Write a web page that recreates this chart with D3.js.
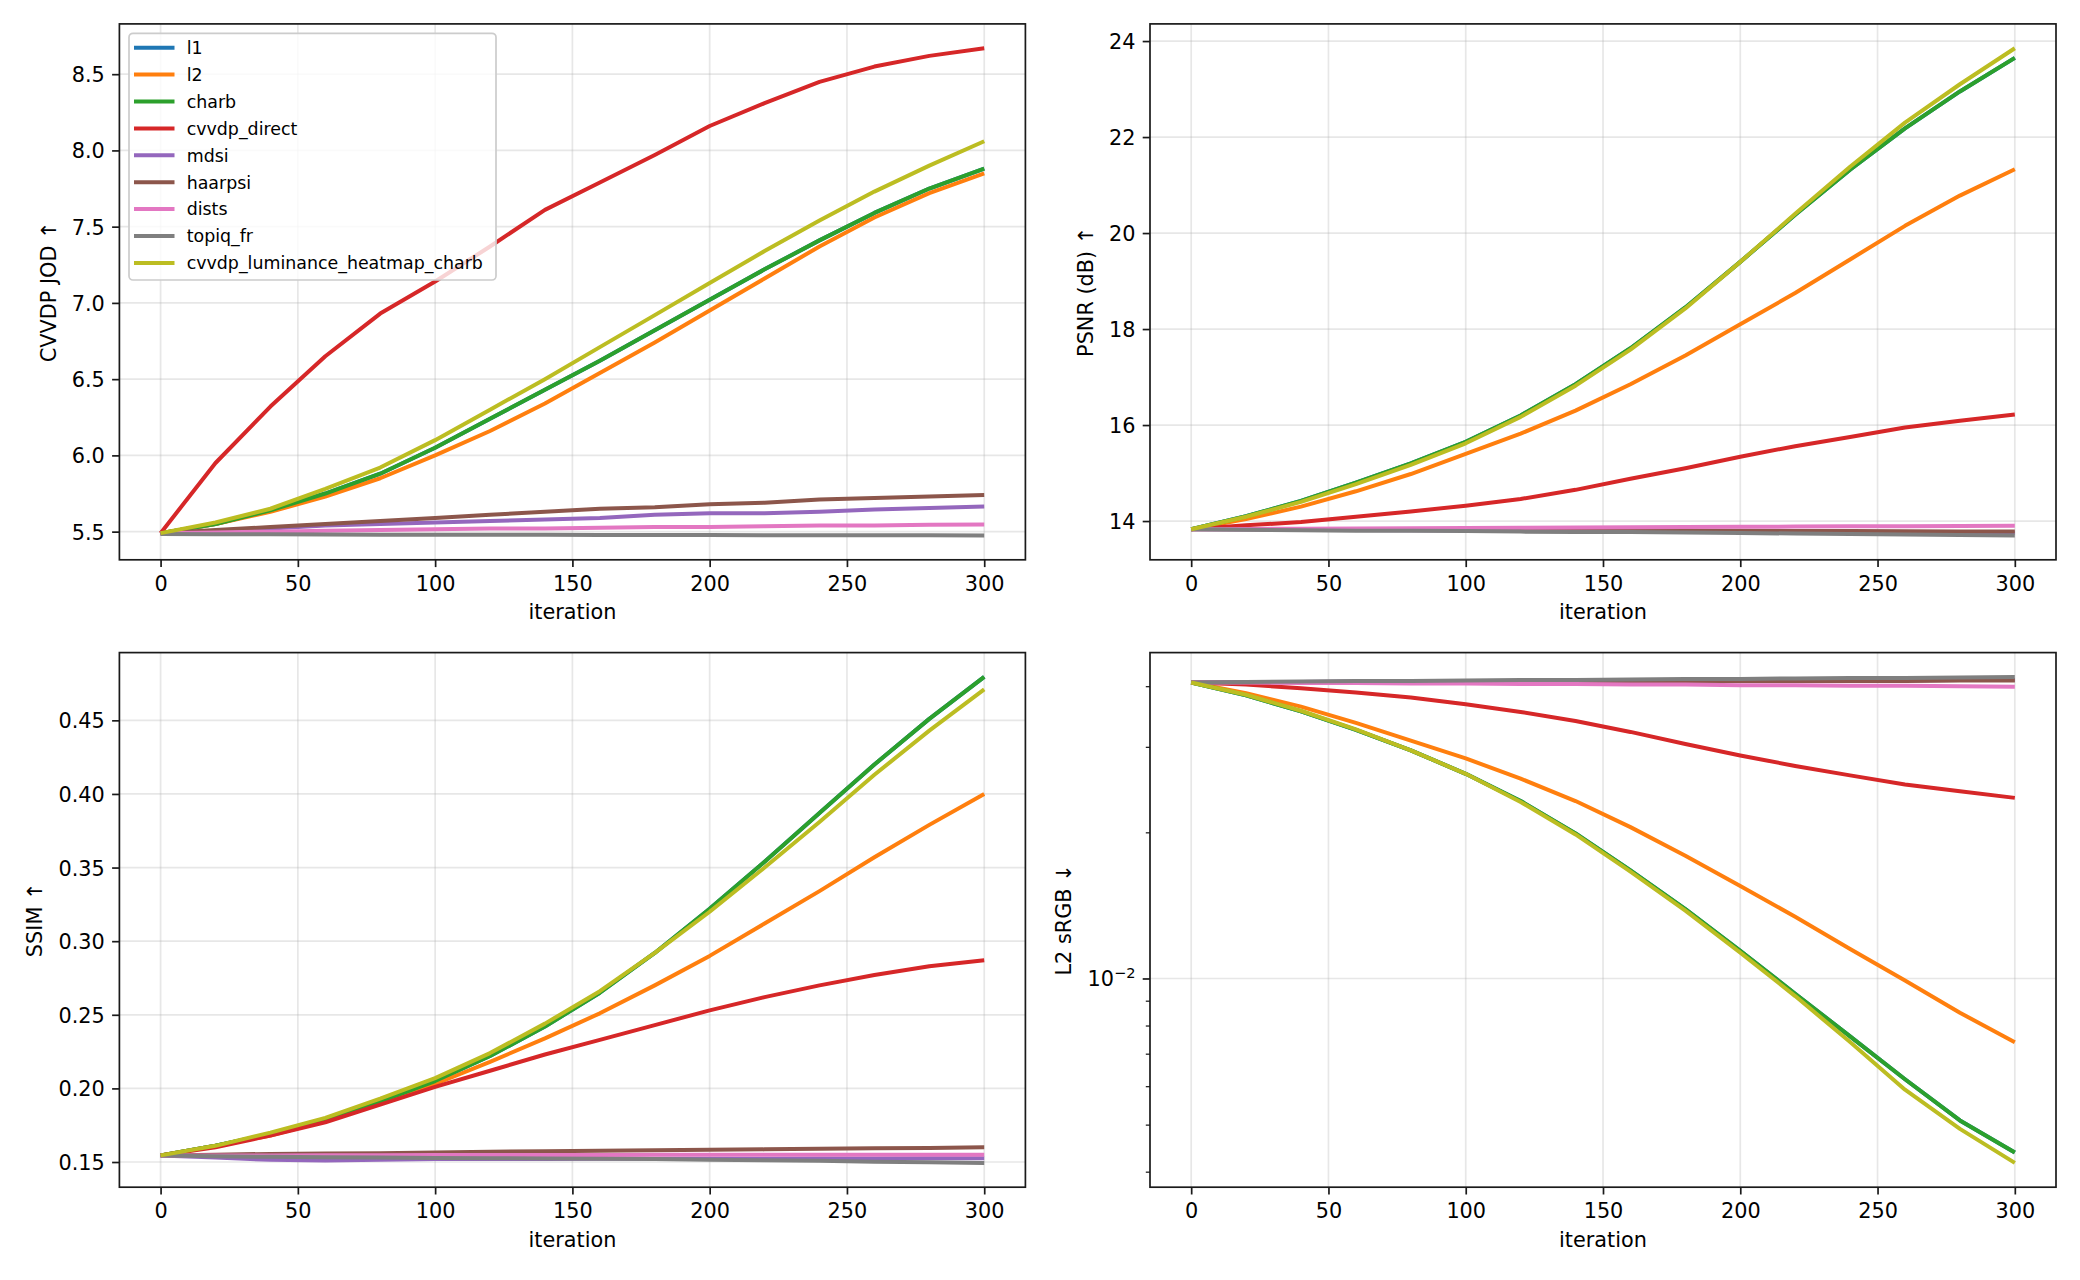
<!DOCTYPE html>
<html>
<head>
<meta charset="utf-8">
<script src="https://cdn.jsdelivr.net/npm/d3@7"></script>
<style>
  body { margin: 0; background: #fff; }
  svg { display: block; }
  text { font-family: "DejaVu Sans", sans-serif; fill: #000; }
</style>
</head>
<body>
<div id="chart"></div>
<script>
// x values (iterations) shared by every panel
var iterations = [0, 20, 40, 60, 80, 100, 120, 140, 160, 180, 200, 220, 240, 260, 280, 300];
var xTicks = [0, 50, 100, 150, 200, 250, 300];

var seriesNames = ["l1", "l2", "charb", "cvvdp_direct", "mdsi", "haarpsi", "dists", "topiq_fr", "cvvdp_luminance_heatmap_charb"];
var seriesColors = ["#1f77b4", "#ff7f0e", "#2ca02c", "#d62728", "#9467bd", "#8c564b", "#e377c2", "#7f7f7f", "#bcbd22"];

// CVVDP JOD (one row per series, same order as seriesNames)
var jodSeries = [
  [5.49, 5.55, 5.64, 5.75, 5.88, 6.05, 6.24, 6.43, 6.62, 6.82, 7.02, 7.22, 7.41, 7.59, 7.75, 7.88],
  [5.49, 5.55, 5.63, 5.73, 5.85, 6.00, 6.16, 6.34, 6.54, 6.74, 6.95, 7.16, 7.37, 7.56, 7.72, 7.85],
  [5.49, 5.55, 5.64, 5.75, 5.88, 6.05, 6.24, 6.43, 6.62, 6.82, 7.02, 7.22, 7.41, 7.59, 7.75, 7.88],
  [5.49, 5.95, 6.32, 6.65, 6.93, 7.14, 7.37, 7.61, 7.79, 7.97, 8.16, 8.31, 8.45, 8.55, 8.62, 8.67],
  [5.49, 5.50, 5.52, 5.54, 5.55, 5.56, 5.57, 5.58, 5.59, 5.61, 5.62, 5.62, 5.63, 5.645, 5.655, 5.665],
  [5.49, 5.51, 5.53, 5.55, 5.57, 5.59, 5.61, 5.63, 5.65, 5.66, 5.68, 5.69, 5.71, 5.72, 5.73, 5.74],
  [5.49, 5.495, 5.50, 5.505, 5.51, 5.515, 5.52, 5.52, 5.525, 5.53, 5.53, 5.535, 5.54, 5.54, 5.545, 5.546],
  [5.485, 5.483, 5.482, 5.481, 5.48, 5.48, 5.479, 5.479, 5.478, 5.478, 5.478, 5.477, 5.477, 5.476, 5.476, 5.475],
  [5.49, 5.56, 5.65, 5.78, 5.92, 6.10, 6.30, 6.50, 6.71, 6.92, 7.13, 7.34, 7.54, 7.73, 7.90, 8.06]
];
var jodTicks = [5.5, 6.0, 6.5, 7.0, 7.5, 8.0, 8.5];

// PSNR (dB)
var psnrSeries = [
  [13.83, 14.10, 14.42, 14.80, 15.20, 15.65, 16.20, 16.85, 17.60, 18.45, 19.40, 20.38, 21.32, 22.18, 22.95, 23.65],
  [13.83, 14.04, 14.30, 14.62, 14.98, 15.40, 15.82, 16.30, 16.85, 17.45, 18.10, 18.75, 19.45, 20.15, 20.78, 21.33],
  [13.83, 14.10, 14.42, 14.80, 15.20, 15.65, 16.20, 16.85, 17.60, 18.45, 19.40, 20.38, 21.32, 22.18, 22.95, 23.65],
  [13.83, 13.91, 13.98, 14.09, 14.20, 14.32, 14.46, 14.65, 14.88, 15.10, 15.34, 15.56, 15.75, 15.95, 16.09, 16.22],
  [13.83, 13.825, 13.82, 13.815, 13.81, 13.805, 13.80, 13.795, 13.79, 13.785, 13.78, 13.775, 13.77, 13.765, 13.76, 13.755],
  [13.83, 13.827, 13.823, 13.82, 13.817, 13.813, 13.81, 13.807, 13.803, 13.80, 13.797, 13.793, 13.79, 13.787, 13.783, 13.78],
  [13.83, 13.835, 13.84, 13.845, 13.85, 13.855, 13.86, 13.865, 13.87, 13.875, 13.88, 13.885, 13.89, 13.893, 13.896, 13.90],
  [13.83, 13.82, 13.81, 13.80, 13.80, 13.79, 13.78, 13.77, 13.77, 13.76, 13.75, 13.74, 13.73, 13.72, 13.71, 13.70],
  [13.83, 14.09, 14.40, 14.77, 15.17, 15.62, 16.17, 16.82, 17.57, 18.43, 19.40, 20.40, 21.38, 22.30, 23.10, 23.85]
];
var psnrTicks = [14, 16, 18, 20, 22, 24];

// SSIM
var ssimSeries = [
  [0.1545, 0.161, 0.169, 0.179, 0.191, 0.205, 0.222, 0.242, 0.265, 0.292, 0.322, 0.354, 0.387, 0.420, 0.451, 0.4795],
  [0.1545, 0.161, 0.168, 0.178, 0.190, 0.203, 0.218, 0.234, 0.251, 0.270, 0.290, 0.312, 0.334, 0.357, 0.379, 0.400],
  [0.1545, 0.161, 0.169, 0.179, 0.191, 0.205, 0.222, 0.242, 0.265, 0.292, 0.322, 0.354, 0.387, 0.420, 0.451, 0.4795],
  [0.1545, 0.160, 0.168, 0.177, 0.189, 0.201, 0.212, 0.223, 0.233, 0.243, 0.253, 0.262, 0.270, 0.277, 0.283, 0.287],
  [0.1545, 0.153, 0.1515, 0.151, 0.1515, 0.152, 0.152, 0.152, 0.1522, 0.1522, 0.1523, 0.1523, 0.1524, 0.1524, 0.1525, 0.1525],
  [0.1545, 0.155, 0.1555, 0.1558, 0.156, 0.1565, 0.157, 0.1573, 0.1576, 0.158, 0.1583, 0.1586, 0.159, 0.1593, 0.1596, 0.160],
  [0.1545, 0.1545, 0.1545, 0.1546, 0.1546, 0.1547, 0.1547, 0.1548, 0.1548, 0.1549, 0.1549, 0.155, 0.155, 0.155, 0.155, 0.155],
  [0.1545, 0.154, 0.1535, 0.1532, 0.153, 0.1528, 0.1526, 0.1524, 0.1522, 0.152, 0.1516, 0.1512, 0.1508, 0.1502, 0.1498, 0.1494],
  [0.1545, 0.161, 0.170, 0.180, 0.193, 0.207, 0.224, 0.244, 0.266, 0.292, 0.320, 0.350, 0.381, 0.413, 0.443, 0.471]
];
var ssimTicks = [0.15, 0.20, 0.25, 0.30, 0.35, 0.40, 0.45];

// L2 sRGB (log axis)
var l2Series = [
  [0.0407, 0.0383, 0.0355, 0.0325, 0.0295, 0.0264, 0.0232, 0.0199, 0.0167, 0.0139, 0.0114, 0.0093, 0.0076, 0.0062, 0.0051, 0.00438],
  [0.0407, 0.0387, 0.0363, 0.0336, 0.0309, 0.0284, 0.0258, 0.0232, 0.0205, 0.0179, 0.0155, 0.0134, 0.0115, 0.0099, 0.0085, 0.00739],
  [0.0407, 0.0383, 0.0355, 0.0325, 0.0295, 0.0264, 0.0232, 0.0199, 0.0167, 0.0139, 0.0114, 0.0093, 0.0076, 0.0062, 0.0051, 0.00438],
  [0.0407, 0.0403, 0.0396, 0.0388, 0.0379, 0.0367, 0.0354, 0.0339, 0.0322, 0.0304, 0.0288, 0.0274, 0.0262, 0.0251, 0.0243, 0.02355],
  [0.0407, 0.0408, 0.0408, 0.0409, 0.0409, 0.0409, 0.041, 0.041, 0.041, 0.041, 0.0411, 0.0411, 0.0411, 0.0411, 0.0412, 0.0412],
  [0.0407, 0.0407, 0.0408, 0.0408, 0.0408, 0.0409, 0.0409, 0.0409, 0.0409, 0.041, 0.041, 0.041, 0.041, 0.041, 0.0411, 0.0411],
  [0.0407, 0.0407, 0.0406, 0.0406, 0.0405, 0.0405, 0.0404, 0.0404, 0.0403, 0.0403, 0.0402, 0.0402, 0.0401, 0.0401, 0.040, 0.0399],
  [0.0407, 0.0408, 0.0409, 0.041, 0.041, 0.0411, 0.0412, 0.0412, 0.0413, 0.0414, 0.0414, 0.0415, 0.0416, 0.0416, 0.0417, 0.0418],
  [0.0407, 0.0384, 0.0356, 0.0326, 0.0295, 0.0264, 0.0231, 0.0198, 0.0166, 0.0138, 0.0113, 0.0092, 0.0074, 0.0059, 0.0049, 0.00417]
];
var l2Ticks = [0.01];
var l2MinorTicks = [0.004, 0.005, 0.006, 0.007, 0.008, 0.009, 0.02, 0.03, 0.04];

// figure
var W = 2080, H = 1280;
var fontSize = 20.8, legendFont = 17.4;
var lineW = 4, spineW = 1.7, tickLen = 7.3;

var svg = d3.select("#chart").append("svg")
  .attr("width", W)
  .attr("height", H);

svg.append("rect").attr("width", W).attr("height", H).attr("fill", "#fff");

var cols = [[119.4, 1025.4], [1150, 2056]];
var rows = [[23.9, 559.8], [652.6, 1187.2]];

function drawPanel(id, box, series, ticks, ylabel, isLog) {
  var left = box[0][0], right = box[0][1], top = box[1][0], bottom = box[1][1];

  // matplotlib style 5% margins
  var xe = d3.extent(iterations), xp = (xe[1] - xe[0]) * 0.05;
  var x = d3.scaleLinear().domain([xe[0] - xp, xe[1] + xp]).range([left, right]);

  var all = d3.merge(series);
  var y;
  if (isLog) {
    var lmin = Math.log10(d3.min(all)), lmax = Math.log10(d3.max(all)), lp = (lmax - lmin) * 0.05;
    y = d3.scaleLog().domain([Math.pow(10, lmin - lp), Math.pow(10, lmax + lp)]).range([bottom, top]);
  } else {
    var ye = d3.extent(all), yp = (ye[1] - ye[0]) * 0.05;
    y = d3.scaleLinear().domain([ye[0] - yp, ye[1] + yp]).range([bottom, top]);
  }

  var g = svg.append("g");

  // grid
  g.selectAll(".gx").data(xTicks).enter().append("line")
    .attr("x1", d => x(d)).attr("x2", d => x(d))
    .attr("y1", top).attr("y2", bottom)
    .attr("stroke", "#b0b0b0").attr("stroke-opacity", 0.3).attr("stroke-width", 1.7);
  g.selectAll(".gy").data(ticks).enter().append("line")
    .attr("x1", left).attr("x2", right)
    .attr("y1", d => y(d)).attr("y2", d => y(d))
    .attr("stroke", "#b0b0b0").attr("stroke-opacity", 0.3).attr("stroke-width", 1.7);

  // lines
  g.append("clipPath").attr("id", "clip" + id)
    .append("rect").attr("x", left).attr("y", top)
    .attr("width", right - left).attr("height", bottom - top);

  var line = d3.line()
    .x((d, i) => x(iterations[i]))
    .y(d => y(d));

  g.append("g").attr("clip-path", "url(#clip" + id + ")")
    .selectAll("path").data(series).enter().append("path")
      .attr("d", line)
      .attr("fill", "none")
      .attr("stroke", (d, i) => seriesColors[i])
      .attr("stroke-width", lineW)
      .attr("stroke-linejoin", "round");

  // spines
  g.append("rect")
    .attr("x", left).attr("y", top)
    .attr("width", right - left).attr("height", bottom - top)
    .attr("fill", "none").attr("stroke", "#1a1a1a").attr("stroke-width", spineW);

  // x axis
  var xa = g.append("g")
    .attr("transform", "translate(0," + bottom + ")")
    .call(d3.axisBottom(x).tickValues(xTicks).tickSize(tickLen).tickPadding(9).tickFormat(d3.format("d")));
  xa.select(".domain").remove();
  xa.selectAll("line").attr("stroke", "#1a1a1a").attr("stroke-width", spineW);
  xa.selectAll("text").attr("font-size", fontSize).attr("font-family", "DejaVu Sans").attr("fill", "#000");

  g.append("text")
    .attr("x", (left + right) / 2).attr("y", bottom + 59.5)
    .attr("text-anchor", "middle").attr("font-size", fontSize)
    .text("iteration");

  // y axis
  var yAxis = d3.axisLeft(y).tickValues(ticks).tickSize(tickLen).tickPadding(7.3);
  if (isLog) {
    yAxis.tickFormat(() => "");
  } else {
    var dec = ticks[1] - ticks[0] < 0.1 ? 2 : (ticks[1] - ticks[0] < 1 ? 1 : 0);
    yAxis.tickFormat(d3.format("." + dec + "f"));
  }
  var ya = g.append("g")
    .attr("transform", "translate(" + left + ",0)")
    .call(yAxis);
  ya.select(".domain").remove();
  ya.selectAll("line").attr("stroke", "#1a1a1a").attr("stroke-width", spineW);
  ya.selectAll("text").attr("font-size", fontSize).attr("font-family", "DejaVu Sans").attr("fill", "#000").attr("dy", "0.36em");

  if (isLog) {
    // 10^-2 style labels
    ya.selectAll(".tick text").each(function (d) {
      var t = d3.select(this);
      t.text(null);
      t.append("tspan").text("10");
      t.append("tspan").attr("font-size", fontSize * 0.7).attr("dy", -8.5)
        .text("\u2212" + Math.abs(Math.round(Math.log10(d))));
    });
    var ym = g.append("g")
      .attr("transform", "translate(" + left + ",0)")
      .call(d3.axisLeft(y).tickValues(l2MinorTicks).tickSize(4.2).tickFormat(""));
    ym.select(".domain").remove();
    ym.selectAll("line").attr("stroke", "#1a1a1a").attr("stroke-width", 1.25);
  }

  // y label placed left of the tick labels
  var minX = d3.min(ya.selectAll("text").nodes(), n => n.getBBox().x);
  g.append("text")
    .attr("transform", "translate(" + (left + minX - 16) + "," + ((top + bottom) / 2) + ") rotate(-90)")
    .attr("text-anchor", "middle").attr("font-size", fontSize)
    .text(ylabel);

  return g;
}

var g1 = drawPanel(1, [cols[0], rows[0]], jodSeries, jodTicks, "CVVDP JOD \u2191", false);
drawPanel(2, [cols[1], rows[0]], psnrSeries, psnrTicks, "PSNR (dB) \u2191", false);
drawPanel(3, [cols[0], rows[1]], ssimSeries, ssimTicks, "SSIM \u2191", false);
drawPanel(4, [cols[1], rows[1]], l2Series, l2Ticks, "L2 sRGB \u2193", true);

// legend in the first panel
var lg = g1.append("g");
lg.append("rect")
  .attr("x", 129).attr("y", 33.3)
  .attr("width", 367).attr("height", 246.7)
  .attr("rx", 4).attr("ry", 4)
  .attr("fill", "#fff").attr("fill-opacity", 0.8)
  .attr("stroke", "#cccccc").attr("stroke-width", 1.7);

var item = lg.selectAll(".item").data(seriesNames).enter().append("g")
  .attr("transform", (d, i) => "translate(0," + (47.7 + i * 26.9) + ")");
item.append("line")
  .attr("x1", 134).attr("x2", 174.5)
  .attr("stroke", (d, i) => seriesColors[i])
  .attr("stroke-width", lineW);
item.append("text")
  .attr("x", 186.7).attr("y", 6.3)
  .attr("font-size", legendFont)
  .text(d => d);
</script>
</body>
</html>
